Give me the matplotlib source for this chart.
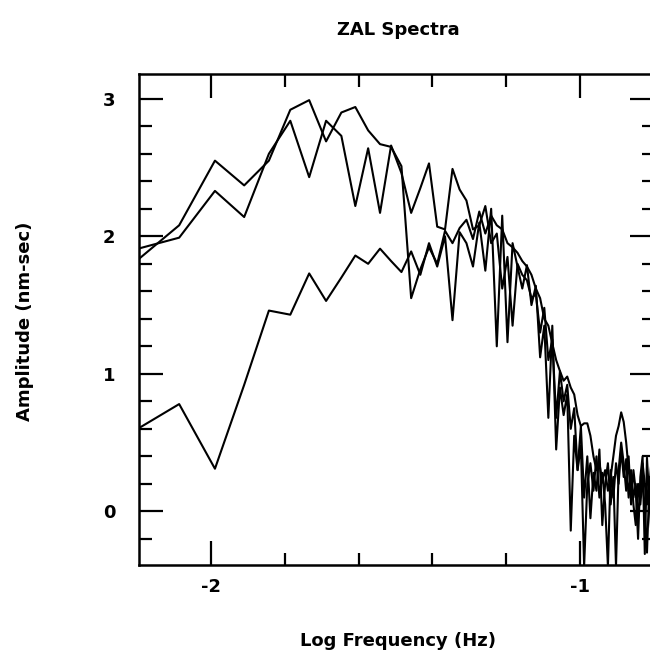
import numpy as np
import matplotlib
matplotlib.use("Agg")
import matplotlib.pyplot as plt
from matplotlib.ticker import FixedLocator, MultipleLocator

# frequency grid of the spectra: bin index k, bin width df (Hz)
df = 0.00205
bins = np.arange(3, 78)

spec_a = [1.80, 2.08, 2.55, 2.37, 2.55, 2.92, 2.99, 2.69, 2.90, 2.94,
          2.77, 2.67, 2.65, 2.51, 1.55, 1.76, 1.92, 1.80, 2.04, 1.95,
          2.06, 2.12, 1.98, 2.18, 2.02, 2.15, 2.08, 2.05, 1.95, 1.92,
          1.88, 1.82, 1.78, 1.72, 1.62, 1.55, 1.40, 1.35, 1.22, 1.10,
          1.02, 0.95, 0.98, 0.90, 0.85, 0.70, 0.62, 0.64, 0.64, 0.55,
          0.40, 0.30, 0.35, 0.22, 0.30, 0.15, 0.25, 0.40, 0.55, 0.62,
          0.72, 0.65, 0.50, 0.30, 0.25, 0.10, 0.20, -0.05, 0.15, 0.35,
          0.20, 0.05, 0.25, 0.10, 0.30]

spec_b = [1.90, 1.99, 2.33, 2.14, 2.60, 2.84, 2.43, 2.84, 2.73, 2.22,
          2.64, 2.17, 2.66, 2.46, 2.17, 2.35, 2.53, 2.07, 2.05, 2.49,
          2.34, 2.26, 2.05, 2.08, 2.22, 1.95, 2.02, 1.62, 1.85, 1.35,
          1.80, 1.72, 1.68, 1.55, 1.58, 1.30, 1.48, 1.10, 1.25, 0.68,
          1.02, 0.80, 0.92, 0.60, 0.75, 0.30, 0.48, -0.40, 0.20, 0.35,
          0.15, 0.40, 0.10, 0.28, 0.05, -0.40, 0.30, 0.10, 0.35, 0.20,
          0.45, 0.25, 0.38, 0.10, 0.30, 0.05, -0.10, 0.20, 0.05, 0.25,
          0.00, -0.30, 0.15, 0.35, 0.20]

spec_c = [0.58, 0.78, 0.31, 0.92, 1.46, 1.43, 1.73, 1.53, 1.70, 1.86,
          1.80, 1.91, 1.82, 1.74, 1.89, 1.72, 1.95, 1.78, 2.00, 1.39,
          2.03, 1.95, 1.78, 2.10, 1.75, 2.20, 1.20, 2.15, 1.23, 1.95,
          1.78, 1.62, 1.79, 1.50, 1.64, 1.12, 1.35, 0.68, 1.35, 0.45,
          0.90, 0.70, 0.85, -0.14, 0.55, 0.30, 0.62, 0.10, 0.40, -0.05,
          0.28, 0.15, 0.45, -0.10, 0.20, 0.35, 0.05, 0.25, -0.40, 0.30,
          0.50, 0.35, 0.15, 0.40, 0.05, 0.30, 0.15, -0.20, 0.25, 0.40,
          -0.31, 0.39, 0.10, -0.15, 0.25]

x_major = [-2, -1]
x_major_labels = ["-2", "-1"]
x_minor = [-1.8, -1.6, -1.4, -1.2, -0.8]
y_major = [0, 1, 2, 3]
y_major_labels = ["0", "1", "2", "3"]

log_freq = np.log10(df * bins)

W, H = 650, 653
fig = plt.figure(figsize=(W / 100, H / 100), dpi=100)
left, right, top, bottom = 139, 654, 74, 565
ax = fig.add_axes([left / W, 1 - bottom / H, (right - left) / W, (bottom - top) / H])

for s in (spec_a, spec_b, spec_c):
    ax.plot(log_freq, s, color="black", lw=1.5)

ax.set_xlim(-2.195, -0.8)
ax.set_ylim(-0.39, 3.18)

ax.xaxis.set_major_locator(FixedLocator(x_major))
ax.set_xticklabels(x_major_labels)
ax.xaxis.set_minor_locator(FixedLocator(x_minor))
ax.yaxis.set_major_locator(FixedLocator(y_major))
ax.set_yticklabels(y_major_labels)
ax.yaxis.set_minor_locator(MultipleLocator(0.2))

ax.tick_params(which="both", direction="in", top=True, right=True, width=1.6, color="black")
ax.tick_params(which="major", length=17, pad=9)
ax.tick_params(which="minor", length=9)
ax.tick_params(axis="y", which="major", pad=17)

for sp in ax.spines.values():
    sp.set_linewidth(1.8)

fam = "DejaVu Sans"
fs = 13
font = dict(family=fam, weight="bold", size=fs)
for lab in ax.get_xticklabels() + ax.get_yticklabels():
    lab.set_fontfamily(fam)
    lab.set_fontweight("bold")
    lab.set_fontsize(fs)

fig.text(398 / W, 1 - 30 / H, "ZAL Spectra", ha="center", va="center", **font)
fig.text(398 / W, 1 - 641 / H, "Log Frequency (Hz)", ha="center", va="center", **font)
fig.text(25 / W, 1 - 321 / H, "Amplitude (nm-sec)", ha="center", va="center", rotation=90, **font)

fig.savefig("out.png", dpi=100)
